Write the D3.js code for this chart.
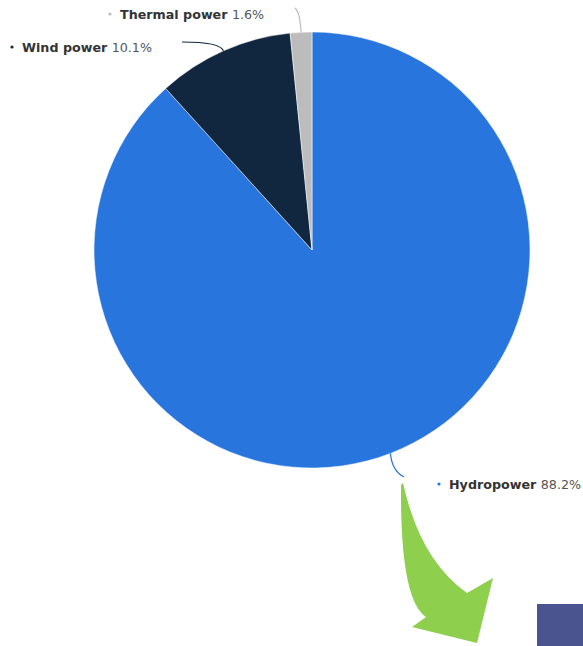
<!DOCTYPE html>
<html>
<head>
<meta charset="utf-8">
<script src="https://cdn.jsdelivr.net/npm/d3@7"></script>
<style>
  html, body { margin: 0; padding: 0; background: #fff; }
  svg { display: block; }
  .lbl-name { font-family: "DejaVu Sans", sans-serif; font-weight: bold; fill: #333; }
  .lbl-val { font-family: "DejaVu Sans", sans-serif; fill: #555; }
</style>
</head>
<body>
<div id="chart"></div>
<script>
const categories = ["Hydropower", "Wind power", "Thermal power"];
const shares = [88.2, 10.1, 1.6];
const colors = ["#2876dd", "#10273f", "#bcbcbc"];

// label anchors (dot position) and connector bends, per category
const labelPos = [[439, 484], [12, 47], [110, 14]];
const connEnd = [[404, 477], [182, 42], [295, 8]];
const connCtrl = [[392, 471], [220, 42], [300, 12]];

const width = 583;
const height = 646;
const cx = 312, cy = 250, radius = 218;

const svg = d3.select("#chart").append("svg")
    .attr("width", width)
    .attr("height", height)
    .attr("viewBox", `0 0 ${width} ${height}`);

const data = categories.map((c, i) => ({ name: c, value: shares[i], color: colors[i], idx: i }));

const pie = d3.pie().sort(null).value(d => d.value);
const arc = d3.arc().innerRadius(0).outerRadius(radius);
const arcs = pie(data);

const g = svg.append("g").attr("transform", `translate(${cx},${cy})`);

g.selectAll("path.slice")
    .data(arcs)
    .enter().append("path")
    .attr("class", "slice")
    .attr("d", arc)
    .attr("fill", d => d.data.color)
    .attr("stroke", "#fff")
    .attr("stroke-width", 0.5);

// connectors
svg.selectAll("path.conn")
    .data(arcs)
    .enter().append("path")
    .attr("class", "conn")
    .attr("fill", "none")
    .attr("stroke", d => d.data.color)
    .attr("stroke-width", 1.2)
    .attr("d", d => {
        const a = (d.startAngle + d.endAngle) / 2;
        const sx = cx + radius * Math.sin(a);
        const sy = cy - radius * Math.cos(a);
        const p = d3.path();
        p.moveTo(sx, sy);
        const c = connCtrl[d.data.idx], e = connEnd[d.data.idx];
        p.quadraticCurveTo(c[0], c[1], e[0], e[1]);
        return p.toString();
    });

// labels
const lbl = svg.selectAll("g.lbl")
    .data(data)
    .enter().append("g")
    .attr("class", "lbl")
    .attr("transform", d => `translate(${labelPos[d.idx][0]},${labelPos[d.idx][1]})`);

lbl.append("circle")
    .attr("r", 1.6)
    .attr("fill", d => d.color);

const txt = lbl.append("text")
    .attr("x", 10)
    .attr("y", 4.5)
    .style("font-size", "12.7px");
txt.append("tspan").attr("class", "lbl-name").text(d => d.name + " ");
txt.append("tspan").attr("class", "lbl-val").text(d => d3.format(".1f")(d.value) + "%");

// green arrow annotation (curved shaft, pointed head)
const ar = d3.path();
ar.moveTo(403, 483);
ar.quadraticCurveTo(420, 560, 467, 593);
ar.lineTo(493, 578);
ar.lineTo(477, 643);
ar.lineTo(412, 627);
ar.lineTo(426, 617);
ar.quadraticCurveTo(400, 600, 401, 485);
ar.closePath();
svg.append("path")
    .attr("d", ar.toString())
    .attr("fill", "#8ecf4d");

// corner box
svg.append("rect")
    .attr("x", 537).attr("y", 604)
    .attr("width", 46).attr("height", 42)
    .attr("fill", "#4a5590");
</script>
</body>
</html>
